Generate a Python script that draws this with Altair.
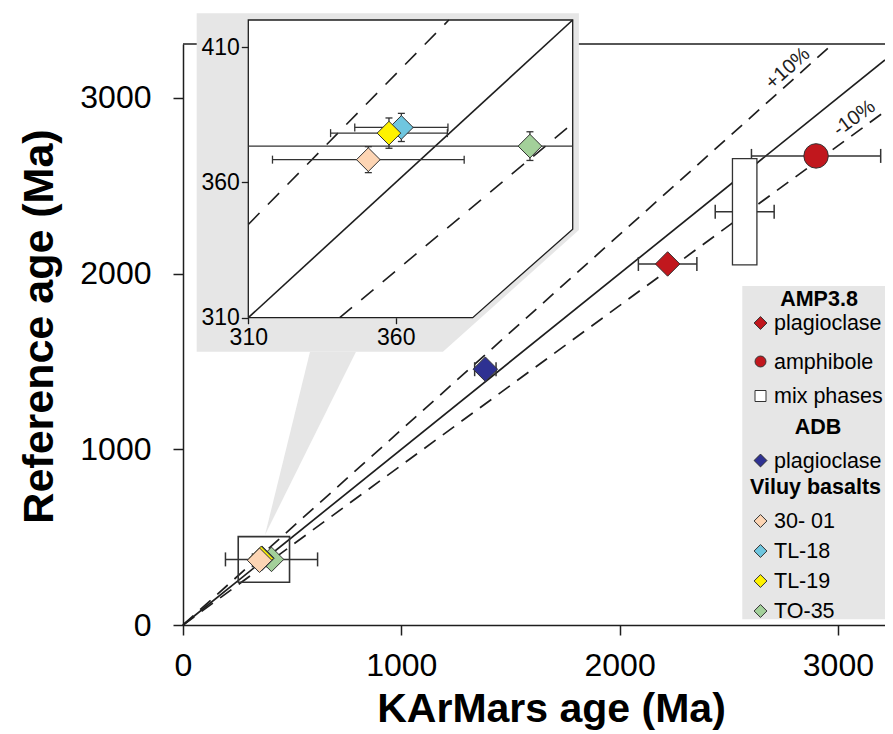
import math
import altair as alt
import pandas as pd

FONT = "Liberation Sans, Arial, Helvetica, sans-serif"
INK = "#1e1e1e"
PANEL_GREY = "#e6e6e6"

# ---------------- data ----------------
sample = ["AMP3.8 amphibole", "AMP3.8 plagioclase", "ADB plagioclase",
          "TO-35", "TL-18", "TL-19", "30- 01"]
karmars_age = [2900, 2220, 1385, 405.5, 361.9, 357.7, 350.7]
karmars_err = [296, 134, 49, 211, 15.8, 19.8, 32.5]
reference_age = [2670, 2055, 1456, 373.4, 380.3, 378.2, 368.4]
reference_err = [0, 0, 0, 5.3, 5.2, 5.6, 4.8]
viluy = ["TO-35", "TL-18", "TL-19", "30- 01"]

mix_karmars_age = [2573]
mix_karmars_err = [135]
mix_box_age = [2517, 2629]
mix_reference_range = [2050, 2655]

zoom_box_age = [253, 488]
zoom_box_ref = [243, 503]

main_ticks = [0, 1000, 2000, 3000]
inset_x_ticks = [310, 360]
inset_y_ticks = [310, 360, 410]
inset_domain = [310, 420]
deviation = 0.10
dev_labels = ["+10%", "-10%"]

legend_headings = ["AMP3.8", "ADB", "Viluy basalts"]
legend_labels = ["plagioclase", "amphibole", "mix phases", "plagioclase",
                 "30- 01", "TL-18", "TL-19", "TO-35"]
legend_keys = ["AMP3.8 plagioclase", "AMP3.8 amphibole", "mix phases", "ADB plagioclase",
               "30- 01", "TL-18", "TL-19", "TO-35"]

# ---------------- styles ----------------
style_domain = legend_keys
style_fill = ["#c1171d", "#c1171d", "#ffffff", "#2e3192",
              "#fdd5b4", "#6fc6df", "#fff200", "#a3d09a"]
style_shape = ["diamond", "circle", "square", "diamond",
               "diamond", "diamond", "diamond", "diamond"]
fill_scale = alt.Scale(domain=style_domain, range=style_fill)
shape_scale = alt.Scale(domain=style_domain, range=style_shape)

# ---------------- layout ----------------
PX_PER_KX = 218.3 / 1000          # pixels per Ma along x
W, H = 702, 581
XMAX, YMAX = W / PX_PER_KX, 3307
PAD_L, PAD_T, PAD_B = 175, 36, 109

xs = alt.Scale(domain=[0, XMAX], nice=False, zero=False)
ys = alt.Scale(domain=[0, YMAX], nice=False, zero=False)

common_axis = dict(grid=False, domainColor=INK, domainWidth=1.5, tickColor=INK, tickWidth=1.5,
                   tickSize=10, labelFont=FONT, labelFontSize=32, labelColor="black",
                   labelFlush=False, labelOverlap=False, format="d", titleFont=FONT,
                   titleFontWeight="bold", titleColor="black", titleAlign="center",
                   titleBaseline="alphabetic")
xa = alt.Axis(values=main_ticks, title="KArMars age (Ma)", labelPadding=15, titleFontSize=41,
              titleX=368, titleY=96, titleAngle=0, **common_axis)
ya = alt.Axis(values=main_ticks, title="Reference age (Ma)", labelPadding=22, titleFontSize=43,
              titleX=-131, titleY=282, titleAngle=270, **common_axis)


def MX(f):
    return alt.X(f, type="quantitative", scale=xs, axis=xa)


def MY(f):
    return alt.Y(f, type="quantitative", scale=ys, axis=ya)


# inset scales (placed in pixel range of the plot area)
xin = alt.Scale(domain=inset_domain, range=[65.3, 389.7], nice=False, zero=False)
yin = alt.Scale(domain=inset_domain, range=[273.7, -24], nice=False, zero=False)
inset_axis = dict(grid=False, domain=False, tickColor=INK, tickWidth=1.3, labelFont=FONT,
                  labelFontSize=23, labelColor="black", labelFlush=False, labelOverlap=False,
                  title=None, zindex=1)
xia = alt.Axis(values=inset_x_ticks, orient="bottom", offset=-(H - 273.7), tickSize=6,
               labelPadding=3, **inset_axis)
yia = alt.Axis(values=inset_y_ticks, orient="left", offset=-65.3, tickSize=7,
               labelPadding=2, **inset_axis)


def IX(f):
    return alt.X(f, type="quantitative", scale=xin, axis=xia)


def IY(f):
    return alt.Y(f, type="quantitative", scale=yin, axis=yia)


# ---------------- tables ----------------
df = pd.DataFrame({"sample": sample, "x": karmars_age, "xerr": karmars_err,
                   "y": reference_age, "yerr": reference_err})
df["lo"] = df.x - df.xerr
df["hi"] = df.x + df.xerr
df["ylo"] = df.y - df.yerr
df["yhi"] = df.y + df.yerr

mix = pd.DataFrame({"sample": ["mix phases"], "x": mix_karmars_age, "xerr": mix_karmars_err})
mix["y"] = sum(mix_reference_range) / 2
mix["lo"] = mix.x - mix.xerr
mix["hi"] = mix.x + mix.xerr
mix_box = pd.DataFrame({"lo": [mix_box_age[0]], "hi": [mix_box_age[1]],
                        "ylo": [mix_reference_range[0]], "yhi": [mix_reference_range[1]]})

bars = pd.concat([df[["x", "lo", "hi", "y"]], mix[["x", "lo", "hi", "y"]]], ignore_index=True)
caps = pd.concat([bars.assign(cx=bars.lo), bars.assign(cx=bars.hi)], ignore_index=True)


def ref_lines(x0, x1, y0, y1):
    rows = []
    for name, k in [("1:1", 1.0), ("+", 1 / (1 - deviation)), ("-", 1 / (1 + deviation))]:
        a = max(x0, y0 / k)
        b = min(x1, y1 / k)
        rows += [{"line": name, "x": a, "y": a * k}, {"line": name, "x": b, "y": b * k}]
    return pd.DataFrame(rows)


main_lines = ref_lines(0, XMAX, 0, YMAX)

px_per_y = H / YMAX
ang_plus = 360 - math.degrees(math.atan(px_per_y / PX_PER_KX / (1 - deviation)))
ang_minus = 360 - math.degrees(math.atan(px_per_y / PX_PER_KX / (1 + deviation)))
ann = pd.DataFrame({"t": dev_labels, "x": [2770, 3075], "y": [3168, 2885]})

# callout triangle from inset down to the zoom box (in main data units)
callout = pd.DataFrame({"x": [375.6, 581.8, 792.5], "top": [512.3, 1555.8, 1555.8],
                        "bot": [512.3, 1028.4, 1555.8]})
zoom_box = pd.DataFrame({"lo": [zoom_box_age[0]], "hi": [zoom_box_age[1]],
                         "ylo": [zoom_box_ref[0]], "yhi": [zoom_box_ref[1]]})
one = pd.DataFrame({"a": [0]})

# ---------------- main panel ----------------
m_callout = alt.Chart(callout).mark_area(color=PANEL_GREY).encode(
    x=MX("x"), y=MY("top"), y2="bot")
m_frame = alt.Chart(one).mark_rule(color=INK, strokeWidth=1.5).encode(
    x=alt.value(0), x2=alt.value(W + 10), y=alt.value(0))
m_solid = alt.Chart(main_lines[main_lines.line == "1:1"]).mark_line(
    color=INK, strokeWidth=1.7).encode(x=MX("x"), y=MY("y"))
m_dash = alt.Chart(main_lines[main_lines.line != "1:1"]).mark_line(
    color=INK, strokeWidth=1.7, strokeDash=[14, 9]).encode(
    x=MX("x"), y=MY("y"), detail="line:N")
m_bars = alt.Chart(bars).mark_rule(color="#333333", strokeWidth=1.5).encode(
    x=MX("lo"), x2="hi", y=MY("y"))
m_caps = alt.Chart(caps).mark_tick(orient="vertical", size=14, thickness=1.5,
                                   color="#333333", opacity=1).encode(x=MX("cx"), y=MY("y"))
m_mixbox = alt.Chart(mix_box).mark_rect(fill="white", stroke="#333333", strokeWidth=1.3).encode(
    x=MX("lo"), x2="hi", y=MY("ylo"), y2="yhi")
m_points = alt.Chart(df).mark_point(filled=True, opacity=1, stroke="#333333",
                                    strokeWidth=1, size=600).encode(
    x=MX("x"), y=MY("y"),
    fill=alt.Fill("sample:N", scale=fill_scale, legend=None),
    shape=alt.Shape("sample:N", scale=shape_scale, legend=None))
m_zoom = alt.Chart(zoom_box).mark_rect(fillOpacity=0, stroke="#333333", strokeWidth=1.6).encode(
    x=MX("lo"), x2="hi", y=MY("ylo"), y2="yhi")
m_txt_p = alt.Chart(ann[ann.t == "+10%"]).mark_text(
    angle=ang_plus, font=FONT, fontSize=20, color=INK).encode(x=MX("x"), y=MY("y"), text="t:N")
m_txt_m = alt.Chart(ann[ann.t == "-10%"]).mark_text(
    angle=ang_minus, font=FONT, fontSize=20, color=INK).encode(x=MX("x"), y=MY("y"), text="t:N")
m_legbg = alt.Chart(one).mark_rect(color=PANEL_GREY).encode(
    x=alt.value(742.3 - 183), x2=alt.value(W + 20), y=alt.value(286 - 44), y2=alt.value(619.3 - 44))

main = alt.layer(m_callout, m_frame, m_solid, m_dash, m_bars, m_caps, m_mixbox,
                 m_points, m_zoom, m_txt_p, m_txt_m, m_legbg)

# ---------------- inset ----------------
lo_i, hi_i = inset_domain
inset_bg = pd.DataFrame({"x": [292.5, 376.0, 422.1], "top": [422.5] * 3,
                         "bot": [297.4, 297.4, 342.4]})
inset_white = pd.DataFrame({"x": [lo_i, 386.1, hi_i], "top": [hi_i] * 3,
                            "bot": [lo_i, lo_i, 342.7]})
outline = pd.DataFrame({"x": [lo_i, lo_i, hi_i, hi_i, 386.1, lo_i],
                        "y": [lo_i, hi_i, hi_i, 342.7, lo_i, lo_i],
                        "i": list(range(6))})
in_lines = ref_lines(lo_i, hi_i, lo_i, hi_i)

vi = df[df["sample"].isin(viluy)].copy()
vi["clo"] = vi.lo.clip(lower=lo_i)
vi["chi"] = vi.hi.clip(upper=hi_i)
in_xcaps = pd.concat([vi.assign(cx=vi.lo), vi.assign(cx=vi.hi)], ignore_index=True)
in_xcaps = in_xcaps[(in_xcaps.cx >= lo_i) & (in_xcaps.cx <= hi_i)]
in_ycaps = pd.concat([vi.assign(cy=vi.ylo), vi.assign(cy=vi.yhi)], ignore_index=True)

i_bg = alt.Chart(inset_bg).mark_area(color=PANEL_GREY).encode(x=IX("x"), y=IY("top"), y2="bot")
i_white = alt.Chart(inset_white).mark_area(color="white").encode(x=IX("x"), y=IY("top"), y2="bot")
i_solid = alt.Chart(in_lines[in_lines.line == "1:1"]).mark_line(
    color=INK, strokeWidth=1.6).encode(x=IX("x"), y=IY("y"))
i_dash = alt.Chart(in_lines[in_lines.line != "1:1"]).mark_line(
    color=INK, strokeWidth=1.6, strokeDash=[16, 12]).encode(x=IX("x"), y=IY("y"), detail="line:N")
i_outline = alt.Chart(outline).mark_line(color=INK, strokeWidth=1.3).encode(
    x=IX("x"), y=IY("y"), order="i:Q")
i_xbars = alt.Chart(vi).mark_rule(color="#333333", strokeWidth=1.3).encode(
    x=IX("clo"), x2="chi", y=IY("y"))
i_ybars = alt.Chart(vi).mark_rule(color="#333333", strokeWidth=1.3).encode(
    x=IX("x"), y=IY("ylo"), y2="yhi")
i_xcaps = alt.Chart(in_xcaps).mark_tick(orient="vertical", size=8, thickness=1.3,
                                        color="#333333", opacity=1).encode(x=IX("cx"), y=IY("y"))
i_ycaps = alt.Chart(in_ycaps).mark_tick(orient="horizontal", size=7, thickness=1.3,
                                        color="#333333", opacity=1).encode(x=IX("x"), y=IY("cy"))
i_points = alt.Chart(vi).mark_point(filled=True, opacity=1, stroke="#333333",
                                    strokeWidth=1, size=560).encode(
    x=IX("x"), y=IY("y"),
    fill=alt.Fill("sample:N", scale=fill_scale, legend=None),
    shape=alt.Shape("sample:N", scale=shape_scale, legend=None))

inset = alt.layer(i_bg, i_white, i_solid, i_dash, i_outline, i_xbars, i_ybars,
                  i_xcaps, i_ycaps, i_points)

# ---------------- legend (drawn by hand, pixel layout) ----------------
head_pos = [(636, 261.5), (635, 390), (567, 449.7)]
heads = pd.DataFrame({"label": legend_headings,
                      "px": [p[0] for p in head_pos], "py": [p[1] for p in head_pos]})
row_y = [279, 317.5, 352, 416.5, 477, 507, 537, 567]
shape_px = {"diamond": 165, "circle": 120, "square": 121}
rows = pd.DataFrame({"label": legend_labels, "key": legend_keys, "py": row_y})
rows["mx"] = 577.5
rows["tx"] = 591
rows["sz"] = [shape_px[style_shape[style_domain.index(k)]] for k in legend_keys]

LEG_FS = 21.5
l_marks = alt.Chart(rows).mark_point(filled=True, opacity=1, stroke="#333333", strokeWidth=1).encode(
    x=alt.X("mx:Q", scale=None), y=alt.Y("py:Q", scale=None),
    size=alt.Size("sz:Q", scale=None),
    fill=alt.Fill("key:N", scale=fill_scale, legend=None),
    shape=alt.Shape("key:N", scale=shape_scale, legend=None))
l_text = alt.Chart(rows).mark_text(align="left", baseline="middle", font=FONT, fontSize=LEG_FS,
                                   color="black", dy=1).encode(
    x=alt.X("tx:Q", scale=None), y=alt.Y("py:Q", scale=None), text="label:N")
l_head_c = alt.Chart(heads.iloc[:2]).mark_text(align="center", baseline="alphabetic", font=FONT,
                                               fontSize=LEG_FS, fontWeight="bold", color="black").encode(
    x=alt.X("px:Q", scale=None), y=alt.Y("py:Q", scale=None), text="label:N")
l_head_l = alt.Chart(heads.iloc[2:]).mark_text(align="left", baseline="alphabetic", font=FONT,
                                               fontSize=LEG_FS, fontWeight="bold", color="black").encode(
    x=alt.X("px:Q", scale=None), y=alt.Y("py:Q", scale=None), text="label:N")
legend = alt.layer(l_marks, l_text, l_head_c, l_head_l)

chart = alt.layer(main, inset, legend).resolve_scale(
    x="independent", y="independent"
).properties(
    width=W, height=H, autosize="none", background="white",
    padding={"left": PAD_L, "top": PAD_T, "right": 0, "bottom": PAD_B},
).configure_view(stroke=None)

chart.save("out.html", embed_options={"renderer": "svg", "actions": False})
